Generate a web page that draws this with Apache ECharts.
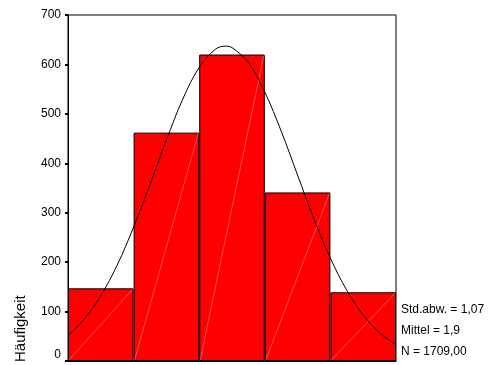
<!DOCTYPE html>
<html>
<head>
<meta charset="utf-8">
<script src="https://cdn.jsdelivr.net/npm/echarts@6/dist/echarts.min.js"></script>
<style>
  html, body { margin: 0; padding: 0; background: #fff; }
  #chart { width: 491px; height: 365px; }
</style>
</head>
<body>
<div id="chart"></div>
<script>
// Histogram classes and their counts
var classes = ['0', '1', '2', '3', '4'];
var counts = [147, 462, 620, 341, 139];

// Fitted normal curve, sampled along the class scale
var curveX = [-0.5, -0.25, 0, 0.25, 0.5, 0.75, 1, 1.25, 1.5, 1.75, 1.9, 2, 2.25, 2.5, 2.75, 3, 3.25, 3.5, 3.75, 4, 4.25, 4.5];
var curveY = [51, 85, 132, 194, 271, 357, 447, 530, 594, 631, 637, 634, 604, 544, 465, 376, 287, 208, 143, 93, 57, 33];

// Y axis ticks
var yTicks = [0, 100, 200, 300, 400, 500, 600, 700];

// Summary statistics shown beside the plot
var statLines = ['Std.abw. = 1,07', 'Mittel = 1,9', 'N = 1709,00'];

var curveData = curveX.map(function (x, i) { return [x, curveY[i]]; });
var seamData = counts.map(function (v, i) { return [i, v]; });

var chart = echarts.init(document.getElementById('chart'), null, { renderer: 'canvas' });

var font = 'Arial, "Liberation Sans", sans-serif';

chart.setOption({
  animation: false,
  backgroundColor: '#ffffff',
  grid: {
    left: 68, top: 15, width: 328, height: 346,
    show: true, borderColor: '#000', borderWidth: 1, backgroundColor: 'transparent'
  },
  xAxis: [
    {
      type: 'category',
      data: classes,
      boundaryGap: true,
      axisLine: { onZero: false, lineStyle: { color: '#000', width: 1 } },
      axisTick: { alignWithLabel: true, length: 3, lineStyle: { color: '#000', width: 2 } },
      axisLabel: { show: false },
      splitLine: { show: false }
    },
    {
      type: 'value',
      min: -0.5, max: 4.5,
      show: false
    }
  ],
  yAxis: {
    type: 'value',
    min: yTicks[0], max: yTicks[yTicks.length - 1], interval: 100,
    axisLine: { show: true, onZero: false, lineStyle: { color: '#000', width: 1 } },
    axisTick: { show: true, length: 3, lineStyle: { color: '#000', width: 2 } },
    axisLabel: {
      color: '#000', fontSize: 12, fontFamily: font, margin: 7,
      formatter: function (v) { return v === 0 ? '{z|0}' : String(v); },
      rich: { z: { fontSize: 12, fontFamily: font, color: '#000', padding: [0, 0, 12, 0] } }
    },
    splitLine: { show: false }
  },
  series: [
    {
      type: 'bar',
      xAxisIndex: 0,
      data: counts,
      barCategoryGap: '0%',
      itemStyle: { color: '#ff0000', borderColor: '#000', borderWidth: 1 },
      z: 2
    },
    {
      // faint diagonal seam across each bar
      type: 'custom',
      xAxisIndex: 1,
      data: seamData,
      z: 3,
      silent: true,
      renderItem: function (params, api) {
        var i = api.value(0), v = api.value(1);
        var p0 = api.coord([i - 0.5, 0]);
        var p1 = api.coord([i + 0.5, v]);
        return {
          type: 'line',
          shape: { x1: p0[0] + 1, y1: p0[1] - 1, x2: p1[0] - 1, y2: p1[1] + 1 },
          style: { stroke: 'rgba(255,190,190,0.7)', lineWidth: 0.6 }
        };
      }
    },
    {
      type: 'line',
      xAxisIndex: 1,
      data: curveData,
      smooth: 0.35,
      symbol: 'none',
      lineStyle: { color: '#000', width: 1 },
      z: 4
    }
  ],
  graphic: [
    {
      type: 'text',
      x: 21, y: 362,
      rotation: Math.PI / 2,
      style: {
        text: 'Häufigkeit', fill: '#000',
        font: '15px ' + font,
        textAlign: 'left', textVerticalAlign: 'middle'
      }
    },
    {
      type: 'text', x: 401, y: 310,
      style: { text: statLines[0], fill: '#000', font: '12px ' + font, textAlign: 'left', textVerticalAlign: 'middle' }
    },
    {
      type: 'text', x: 401, y: 331,
      style: { text: statLines[1], fill: '#000', font: '12px ' + font, textAlign: 'left', textVerticalAlign: 'middle' }
    },
    {
      type: 'text', x: 401, y: 352,
      style: { text: statLines[2], fill: '#000', font: '12px ' + font, textAlign: 'left', textVerticalAlign: 'middle' }
    }
  ]
});
</script>
</body>
</html>
